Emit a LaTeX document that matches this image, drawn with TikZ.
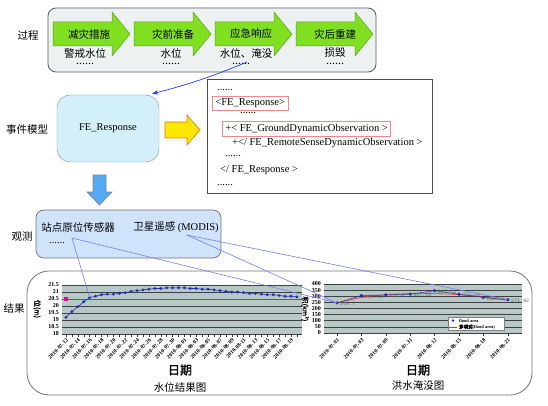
\documentclass[tikz,border=0pt]{standalone}
\usepackage{fontspec}
\setmainfont{Liberation Serif}
\newfontfamily\cjk{Noto Sans CJK SC}
\newfontfamily\cjkbf[FakeBold=2]{Noto Sans CJK SC}
\newfontfamily\monof{Liberation Mono}
\usetikzlibrary{arrows.meta,calc}
\definecolor{procfill}{HTML}{EEF1F2}
\definecolor{greenfill}{HTML}{80E020}
\definecolor{greenline}{HTML}{5AA020}
\definecolor{fefill}{HTML}{D3F0FA}
\definecolor{obsfill}{HTML}{CFE3FA}
\definecolor{plotbg}{HTML}{B8C8C6}
\definecolor{linkblue}{HTML}{7080F0}
\definecolor{arrowblue}{HTML}{2040E0}
\definecolor{downblue}{HTML}{55AAF5}
\definecolor{serblue}{HTML}{2030B0}
\definecolor{xmlred}{HTML}{F08A8A}
\definecolor{yel}{HTML}{FFE800}
\definecolor{yelline}{HTML}{F07010}
\definecolor{trendred}{HTML}{FF2020}
\begin{document}
\begin{tikzpicture}[x=1pt,y=-1pt,
  cjklab/.style={font=\cjk\fontsize{10.5}{12}\selectfont, text=black, inner sep=0pt},
  dotsl/.style={font=\fontsize{12}{12}\selectfont, inner sep=0pt},
  xmltxt/.style={font=\fontsize{10.5}{12}\selectfont, anchor=west, inner sep=0pt},
  xmlbox/.style={font=\fontsize{10.5}{12}\selectfont, anchor=west, draw=xmlred, line width=0.8pt, inner xsep=3pt, inner ysep=2.5pt},
  garrow/.style={fill=greenfill, draw=greenline, line width=0.5pt},
  conn/.style={linkblue, line width=0.6pt},
  ylab/.style={font=\fontsize{6}{6}\selectfont\bfseries, anchor=east, inner sep=0pt},
  xlab/.style={font=\fontsize{5.5}{6}\selectfont\bfseries, anchor=north east, rotate=45, inner sep=0pt},
  gridln/.style={black!75, line width=0.6pt},
  dlab/.style={font=\monof\fontsize{5}{6}\selectfont, text=black!60, anchor=west, inner sep=0pt},
  legtxt/.style={font=\fontsize{4.5}{5}\selectfont\bfseries, anchor=west, inner sep=0pt}
]
\useasboundingbox (0,0) rectangle (548,406);

% ---------- process ----------
\node[draw=black!65, fill=procfill, rounded corners=8pt, line width=0.8pt,
      minimum width=328, minimum height=64, inner sep=0] (proc) at (212,40) {};
\foreach \x in {53,134,215,296}
  \draw[garrow] (\x,22) -- ({\x+59},22) -- ({\x+59},12) -- ({\x+77},34)
     -- ({\x+59},56) -- ({\x+59},46) -- (\x,46) -- cycle;
\node[cjklab] (p1) at (89,34) {减灾措施};
\node[cjklab] (p2) at (173,34) {灾前准备};
\node[cjklab] (p3) at (251,34) {应急响应};
\node[cjklab] (p4) at (335,34) {灾后重建};
\node[cjklab] (s1) at (85,53) {警戒水位};
\node[cjklab] (s2) at (171,53) {水位};
\node[cjklab] (s3) at (246,53) {水位、淹没};
\node[cjklab] (s4) at (335,53) {损毁};
\node[dotsl] (d1) at (85,64) {......};
\node[dotsl] (d2) at (171,64) {......};
\node[dotsl] (d3) at (241,64) {......};
\node[dotsl] (d4) at (335,64) {......};

% ---------- side labels ----------
\node[cjklab] (lproc) at (28,36) {过程};
\node[cjklab] (lev) at (27,130) {事件模型};
\node[cjklab] (lobs) at (22,237) {观测};
\node[cjklab] (lres) at (14,309) {结果};

% ---------- event model ----------
\node[draw=black!45, fill=fefill, rounded corners=13pt, minimum width=102, minimum height=67,
      inner sep=0, font=\fontsize{10.5}{12}\selectfont] (fe) at (108,128.5) {FE\_Response};
\coordinate (flP) at (247,62);
\draw[arrowblue, line width=0.7pt, -{Stealth[length=6pt,width=4.5pt]}]
   (flP) to[bend left=4] ($(fe.north east)+(-7,-1)$);

\draw[fill=yel, draw=yelline, line width=0.6pt] (165,122) -- (187,122) -- (187,115) -- (200,130)
   -- (187,145) -- (187,138) -- (165,138) -- cycle;

\node[draw=black!70, fill=white, line width=0.8pt, minimum width=225, minimum height=114, inner sep=0] (xml) at (319.5,136) {};
\node[xmltxt] (x0) at (217,90) {......};
\node[xmlbox] (x1) at (212,103.5) {<FE\_Response>};
\node[xmltxt] (x2) at (240,113) {......};
\node[xmlbox] (x3) at (222,129) {+< FE\_GroundDynamicObservation >};
\node[xmltxt] (x4) at (232,143) {+</ FE\_RemoteSenseDynamicObservation >};
\node[xmltxt] (x5) at (225,156) {......};
\node[xmltxt] (x6) at (220,170) {</ FE\_Response >};
\node[xmltxt] (x7) at (217,185) {......};

% ---------- down arrow ----------
\draw[fill=downblue, draw=black!50, line width=0.6pt] (93,175) -- (106,175) -- (106,192) -- (112,192)
   -- (99.5,205) -- (87,192) -- (93,192) -- cycle;

% ---------- observation ----------
\node[draw=black!55, fill=obsfill, rounded corners=8pt, line width=0.7pt,
      minimum width=185, minimum height=48, inner sep=0] (obs) at (128.5,234) {};
\node[cjklab] (sta) at (78,227) {站点原位传感器};
\node[inner sep=0, font=\fontsize{10.5}{12}\selectfont] (mod) at (176,227) {{\cjk 卫星遥感} (MODIS)};
\node[dotsl, font=\fontsize{10.5}{12}\selectfont] (od) at (57,243) {......};

% ---------- results ----------
\node[draw=black!55, rounded corners=22pt, line width=0.8pt,
      minimum width=505, minimum height=124, inner sep=0] (res) at (279.5,333) {};

% left chart
\fill[plotbg] (62,285) rectangle (302,334);
\foreach \i in {0,...,7} \draw[gridln] (62,{285+7*\i}) -- (302,{285+7*\i});
\foreach \v [count=\i from 0] in {21.5,21,20.5,20,19.5,19,18.5,18}
  \node[ylab] at (59,{285+7*\i}) {\v};
\node[font=\cjkbf\fontsize{7}{8}\selectfont, rotate=-90, inner sep=0] (ytl) at (37,309) {位(m)};
\foreach \i in {0,...,39} \draw[black!80, line width=0.4pt] ({66+5.92*\i},334) -- ({66+5.92*\i},336.5);
\draw[trendred, line width=1pt] (62,299) -- (302,299);
\fill[magenta] (64,297) rectangle (68,301);
\foreach \v [count=\i from 0] in {19.2,19.6,19.95,20.3,20.6,20.7,20.8,20.85,20.85,20.9,
   20.95,21.05,21.1,21.15,21.2,21.25,21.25,21.3,21.3,21.3,21.3,21.25,21.25,21.2,21.2,
   21.15,21.1,21.05,21.0,21.0,20.95,20.9,20.9,20.85,20.8,20.8,20.75,20.7,20.7,20.65}
  \coordinate (L\i) at ({66+5.92*\i},{334-(\v-18)*14});
\draw[serblue, line width=0.6pt] (L0) \foreach \i in {1,...,39} {-- (L\i)};
\foreach \i in {0,...,39}
  \fill[serblue] (L\i) +(0,-1.6) -- +(1.6,0) -- +(0,1.6) -- +(-1.6,0) -- cycle;
\foreach \d [count=\i from 0] in {07-12,07-14,07-16,07-18,07-20,07-22,07-24,07-26,07-28,07-30,
   08-01,08-03,08-05,08-07,08-09,08-11,08-13,08-15,08-17,08-19}
  \node[xlab] at ({66+11.84*\i},338) {2010-\d};
\node[font=\cjkbf\fontsize{12}{14}\selectfont, inner sep=0] (dl) at (180,370) {日期};
\node[cjklab] (tl) at (180,387) {水位结果图};

% right chart
\fill[plotbg] (324,284) rectangle (522,333);
\foreach \i in {0,...,8} \draw[gridln] (324,{284+6.125*\i}) -- (522,{284+6.125*\i});
\foreach \v [count=\i from 0] in {400,350,300,250,200,150,100,50,0}
  \node[ylab] at (321,{284+6.125*\i}) {\v};
\node[font=\cjkbf\fontsize{7}{8}\selectfont, rotate=-90, inner sep=0] (ytr) at (305,309) {积(km²)};
\foreach \i in {0,...,7} \draw[black!80, line width=0.4pt] ({337+24.4*\i},333) -- ({337+24.4*\i},335.5);
\foreach \v [count=\i from 0] in {245.7,305.03,310.6,317.11,345.43,316.18,290.56,271.92}
  \coordinate (R\i) at ({337+24.4*\i},{333-\v*0.1225});
\draw[trendred, line width=0.6pt] plot[smooth, tension=0.7] coordinates
  {(337,303) (361,297.5) (385,294.8) (410,293.6) (435,293.6) (459,294.6) (484,297) (508,300.5)};
\draw[serblue, line width=0.5pt] (R0) \foreach \i in {1,...,7} {-- (R\i)};
\foreach \i in {0,...,7}
  \fill[serblue] (R\i) +(0,-1.8) -- +(1.8,0) -- +(0,1.8) -- +(-1.8,0) -- cycle;
\foreach \dv [count=\i from 0] in {245.7,305.03,310.6,317.11,345.43,316.18,290.56,271.92}
  \node[dlab] at ($(R\i)+(3,1)$) {\dv};
\node[draw=black!50, fill=white, minimum width=56, minimum height=13, inner sep=0] (leg) at (476,324) {};
\fill[serblue] (453,320.5) +(0,-1.4) -- +(1.4,0) -- +(0,1.4) -- +(-1.4,0) -- cycle;
\node[legtxt] (lg1) at (459,320.5) {flood area};
\draw[trendred, line width=0.6pt] (449,327) -- (457,327);
\node[legtxt] (lg2) at (459,327) {{\cjkbf 多项式}(flood area)};
\foreach \d [count=\i from 0] in {07-01,07-03,07-09,07-31,08-12,08-15,08-18,08-21}
  \node[xlab] at ({337+24.4*\i},338) {2010-\d};
\node[font=\cjkbf\fontsize{12}{14}\selectfont, inner sep=0] (dr) at (418,370) {日期};
\node[cjklab] (tr) at (418,386) {洪水淹没图};

% ---------- connectors ----------
\coordinate (staP) at (72,238);
\coordinate (modP) at (187,235);
\draw[conn] (staP) -- (L4);
\draw[conn] (staP) -- (R0);
\draw[conn] (modP) -- (R0);
\draw[conn] (modP) -- (R7);
\end{tikzpicture}
\end{document}
